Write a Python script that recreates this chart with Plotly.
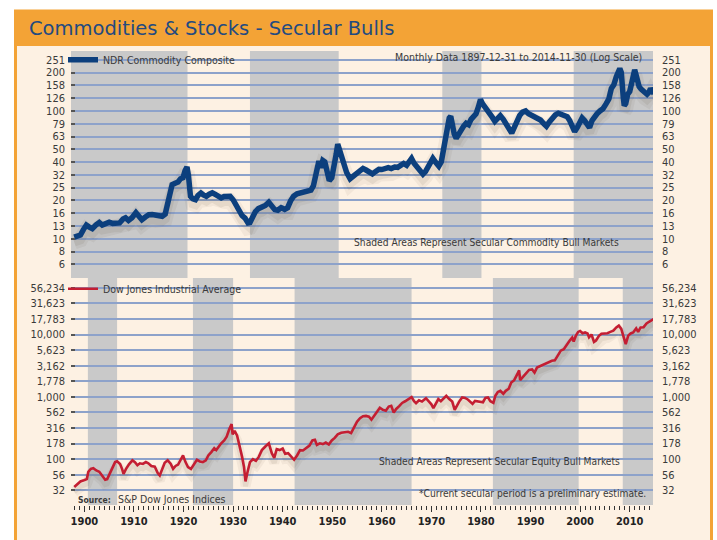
import plotly.graph_objects as go

# ---------------- data ----------------
com_years = [1897.95, 1898.5, 1899.2, 1899.8, 1900.4, 1900.9, 1901.6, 1902.3, 1903.0, 1903.6,
             1904.3, 1905.0, 1905.7, 1906.4, 1907.1, 1907.8, 1908.3, 1908.9, 1909.6, 1910.4,
             1910.9, 1911.6, 1912.3, 1913.0, 1913.7, 1914.4, 1915.0, 1915.7, 1916.3, 1916.8,
             1917.3, 1917.7, 1918.3, 1918.9, 1919.4, 1919.9, 1920.3, 1920.7, 1921.0, 1921.4,
             1921.9, 1922.4, 1922.9, 1923.5, 1924.0, 1924.6, 1925.2, 1925.8, 1926.4, 1927.0,
             1927.6, 1928.2, 1928.8, 1929.4, 1930.0, 1930.6, 1931.2, 1931.8, 1932.4, 1933.0,
             1933.4, 1933.9, 1934.5, 1935.1, 1935.8, 1936.5, 1937.2, 1937.8, 1938.4, 1939.0,
             1939.7, 1940.4, 1941.0, 1941.6, 1942.2, 1942.9, 1943.6, 1944.3, 1945.0, 1945.7,
             1946.2, 1946.6, 1946.9, 1947.3, 1947.7, 1948.1, 1948.5, 1948.9, 1949.4, 1949.9,
             1950.4, 1950.8, 1951.1, 1951.4, 1951.8, 1952.3, 1952.9, 1953.6, 1954.2, 1954.8,
             1955.5, 1956.2, 1956.8, 1957.5, 1958.1, 1958.7, 1959.4, 1960.0, 1960.7, 1961.3,
             1961.9, 1962.6, 1963.2, 1963.8, 1964.4, 1965.0, 1965.6, 1966.0, 1966.5, 1967.1,
             1967.7, 1968.3, 1968.8, 1969.3, 1969.8, 1970.3, 1970.9, 1971.5, 1972.0, 1972.4,
             1972.8, 1973.2, 1973.6, 1973.9, 1974.2, 1974.6, 1975.0, 1975.5, 1976.0, 1976.5,
             1977.0, 1977.5, 1978.0, 1978.5, 1979.0, 1979.5, 1979.9, 1980.3, 1980.8, 1981.3,
             1981.8, 1982.3, 1982.8, 1983.3, 1983.9, 1984.5, 1985.0, 1985.6, 1986.2, 1986.7,
             1987.2, 1987.8, 1988.4, 1989.0, 1989.6, 1990.2, 1990.8, 1991.4, 1992.0, 1992.6,
             1993.2, 1993.8, 1994.4, 1995.0, 1995.6, 1996.2, 1996.8, 1997.4, 1997.9, 1998.4,
             1998.9, 1999.4, 1999.9, 2000.4, 2000.9, 2001.4, 2001.9, 2002.4, 2002.9, 2003.4,
             2004.0, 2004.6, 2005.2, 2005.8, 2006.3, 2006.8, 2007.3, 2007.7, 2008.0, 2008.3,
             2008.5, 2008.7, 2008.9, 2009.2, 2009.6, 2010.0, 2010.4, 2010.8, 2011.0, 2011.3,
             2011.6, 2011.9, 2012.3, 2012.7, 2013.1, 2013.5, 2013.9, 2014.2, 2014.5, 2014.9]
com_values = [10.3, 10.5, 10.7, 11.8, 12.8, 12.4, 12.0, 12.8, 13.4, 12.8,
              13.0, 13.5, 13.2, 13.4, 13.3, 14.3, 14.6, 13.9, 14.6, 16.0,
              15.2, 14.1, 14.8, 15.4, 15.5, 15.2, 15.0, 15.0, 15.6, 18.5,
              22.0, 26.5, 27.2, 27.8, 29.5, 30.0, 34.0, 36.5, 31.0, 21.5,
              20.5, 20.2, 21.8, 22.8, 22.0, 21.5, 22.3, 22.9, 22.2, 21.5,
              20.9, 21.4, 21.3, 21.5, 20.2, 18.3, 16.2, 15.2, 14.5, 13.3,
              13.4, 15.0, 16.3, 17.2, 17.6, 18.2, 19.3, 18.0, 16.9, 16.7,
              17.5, 17.0, 17.5, 19.8, 21.5, 22.5, 22.8, 23.0, 23.4, 24.0,
              26.0, 31.0, 38.0, 40.5, 36.0, 41.0, 40.0, 34.0, 28.5, 30.0,
              36.0, 46.0, 55.0, 50.0, 43.0, 37.0, 33.0, 29.5, 31.0, 32.0,
              34.0, 35.5, 34.5, 33.0, 32.2, 33.5, 35.0, 34.8, 35.2, 36.0,
              35.4, 36.4, 36.2, 37.6, 38.8, 37.5, 40.0, 42.5, 39.0, 36.0,
              33.5, 32.0, 33.5, 36.5, 40.0, 42.5, 39.5, 37.0, 40.0, 49.0,
              58.0, 72.0, 88.0, 91.0, 78.0, 66.0, 61.0, 66.0, 73.0, 76.0,
              80.0, 78.0, 86.0, 90.0, 95.0, 108.0, 123.0, 114.0, 108.0, 103.0,
              97.0, 89.0, 83.0, 88.0, 92.0, 86.0, 79.0, 72.0, 67.0, 74.0,
              84.0, 92.0, 98.0, 100.0, 95.0, 92.0, 90.0, 88.0, 85.0, 80.0,
              76.0, 82.0, 88.0, 93.0, 96.0, 94.0, 92.0, 90.0, 84.0, 76.0,
              69.0, 74.0, 82.0, 88.0, 84.0, 77.0, 74.0, 84.0, 91.0, 95.0,
              100.0, 104.0, 113.0, 124.0, 150.0, 160.0, 185.0, 205.0, 215.0, 200.0,
              175.0, 128.0, 110.0, 114.0, 135.0, 142.0, 165.0, 200.0, 210.0, 190.0,
              165.0, 155.0, 148.0, 142.0, 138.0, 135.0, 140.0, 150.0, 143.0, 137.0]

dow_years = [1897.95, 1898.5, 1899.2, 1899.9, 1900.5, 1900.8, 1901.3, 1901.8, 1902.4, 1903.0,
             1903.6, 1904.2, 1904.6, 1905.2, 1905.7, 1906.2, 1906.6, 1907.2, 1907.6, 1907.9,
             1908.4, 1909.0, 1909.7, 1910.2, 1910.7, 1911.2, 1911.8, 1912.4, 1912.9, 1913.5,
             1914.2, 1914.8, 1915.2, 1915.7, 1916.2, 1916.8, 1917.4, 1917.9, 1918.4, 1918.9,
             1919.4, 1919.9, 1920.4, 1920.9, 1921.5, 1922.1, 1922.7, 1923.3, 1923.9, 1924.5,
             1925.0, 1925.6, 1926.2, 1926.6, 1927.1, 1927.6, 1928.2, 1928.7, 1929.2, 1929.7,
             1929.9, 1930.3, 1930.8, 1931.3, 1931.8, 1932.2, 1932.5, 1932.9, 1933.4, 1934.0,
             1934.6, 1935.2, 1935.8, 1936.5, 1937.2, 1937.8, 1938.3, 1938.8, 1939.4, 1940.0,
             1940.5, 1941.1, 1941.8, 1942.3, 1942.9, 1943.5, 1944.1, 1944.8, 1945.4, 1946.0,
             1946.5, 1946.9, 1947.5, 1948.1, 1948.7, 1949.3, 1949.9, 1950.5, 1951.1, 1951.8,
             1952.5, 1953.2, 1953.8, 1954.4, 1955.0, 1955.6, 1956.2, 1956.8, 1957.4, 1957.9,
             1958.5, 1959.1, 1959.6, 1960.2, 1960.8, 1961.4, 1961.9, 1962.4, 1962.9, 1963.5,
             1964.1, 1964.7, 1965.3, 1966.0, 1966.5, 1966.9, 1967.5, 1968.1, 1968.9, 1969.5,
             1970.0, 1970.4, 1970.9, 1971.4, 1971.9, 1972.5, 1973.0, 1973.6, 1974.2, 1974.7,
             1975.1, 1975.6, 1976.2, 1976.8, 1977.4, 1977.9, 1978.3, 1978.8, 1979.4, 1979.9,
             1980.4, 1980.9, 1981.4, 1981.9, 1982.5, 1982.9, 1983.4, 1983.9, 1984.5, 1985.0,
             1985.6, 1986.1, 1986.7, 1987.3, 1987.7, 1987.9, 1988.4, 1989.0, 1989.7, 1990.3,
             1990.8, 1991.3, 1991.9, 1992.5, 1993.1, 1993.7, 1994.3, 1994.9, 1995.5, 1996.1,
             1996.7, 1997.3, 1997.8, 1998.4, 1998.7, 1999.1, 1999.6, 2000.0, 2000.5, 2001.0,
             2001.5, 2001.8, 2002.3, 2002.8, 2003.2, 2003.8, 2004.3, 2004.9, 2005.5, 2006.1,
             2006.7, 2007.3, 2007.8, 2008.3, 2008.8, 2009.2, 2009.7, 2010.2, 2010.7, 2011.3,
             2011.7, 2012.2, 2012.8, 2013.4, 2013.9, 2014.4, 2014.9]
dow_values = [36, 40, 44, 46, 48, 63, 70, 72, 66, 63,
              55, 47, 48, 62, 75, 90, 93, 84, 70, 58,
              70, 83, 96, 90, 80, 86, 84, 90, 86, 78,
              76, 60, 55, 72, 88, 96, 85, 70, 78, 82,
              100, 115, 90, 75, 70, 84, 98, 92, 90, 96,
              115, 130, 150, 140, 160, 180, 200, 230, 300, 365,
              250, 285, 240, 170, 110, 75, 44, 62, 90, 100,
              94, 110, 140, 160, 180, 125, 105, 145, 140, 148,
              122, 125, 110, 98, 115, 140, 138, 150, 165, 200,
              205, 170, 180, 175, 185, 172, 200, 220, 250, 265,
              270, 275, 262, 320, 400, 455, 490, 495, 480, 430,
              500, 600, 670, 620, 600, 700, 720, 560, 640, 710,
              800, 850, 900, 990, 850, 790, 880, 840, 950, 850,
              760, 660, 800, 920, 850, 950, 1040, 920, 840, 620,
              720, 840, 980, 960, 900, 820, 770, 860, 840, 830,
              820, 960, 980, 850, 800, 1040, 1200, 1250, 1120, 1250,
              1350, 1700, 1850, 2300, 2650, 1850, 2050, 2250, 2700, 2750,
              2450, 2950, 3100, 3300, 3400, 3600, 3800, 3850, 4600, 5500,
              5800, 7000, 7800, 8900, 7700, 9400, 11000, 11400, 10500, 10800,
              10400, 9000, 10000, 7600, 8000, 9500, 10300, 10400, 10500, 11000,
              11500, 13000, 13900, 12300, 9300, 7000, 9600, 10400, 10800, 12500,
              11000, 13000, 13100, 15000, 16000, 16800, 17800]

commodity_bull_start = [1897.0, 1933.4, 1972.2, 1998.7]
commodity_bull_end = [1920.8, 1951.3, 1980.1, 2015.0]
equity_bull_start = [1900.7, 1921.9, 1942.4, 1982.4, 2008.6]
equity_bull_end = [1906.6, 1930.0, 1966.0, 1999.7, 2015.0]

commodity_tick_labels = ["251", "200", "158", "126", "100", "79", "63", "50", "40",
                         "32", "25", "20", "16", "13", "10", "8", "6"]
dow_tick_labels = ["56,234", "31,623", "17,783", "10,000", "5,623", "3,162", "1,778",
                   "1,000", "562", "316", "178", "100", "56", "32"]
decade_ticks = [1900, 1910, 1920, 1930, 1940, 1950, 1960, 1970, 1980, 1990, 2000, 2010]

# ---------------- styling ----------------
W, H = 717, 540
L, R, T, B = 71, 653, 51, 515
NARROW = "Liberation Sans Narrow, DejaVu Sans Condensed, Arial Narrow, sans-serif"
BEIGE = "#FDF1E3"
ORANGE = "#F3A336"
GRAY = "#C9C9C9"
GRID = "#8DA2CA"
TXT = "#3A3A3A"


def px(xp):
    return (xp - L) / (R - L)


def py(yp):
    return (B - yp) / (B - T)


com_ticks = [10 ** (2.4 - 0.1 * i) for i in range(len(commodity_tick_labels))]
dow_ticks = [10 ** (4.75 - 0.25 * i) for i in range(len(dow_tick_labels))]
X_RANGE = [1897.3, 2014.7]
COM_RANGE = [0.693, 2.469]
DOW_RANGE = [1.266, 4.906]
com_shift = 5 / 130.6
dow_shift = 5 / 64.0
TOP_DOM = [0.5, 1.0]
BOT_DOM = [0.0, 0.5]

fig = go.Figure()

# soft shadows (base subplots, drawn first)
for w, a in [(15, 0.05), (9, 0.07)]:
    fig.add_trace(go.Scatter(x=com_years, y=com_values, xaxis="x", yaxis="y", mode="lines",
                             line=dict(color=f"rgba(60,40,20,{a})", width=w),
                             showlegend=False, hoverinfo="skip"))
for w, a in [(10, 0.05), (5, 0.07)]:
    fig.add_trace(go.Scatter(x=dow_years, y=dow_values, xaxis="x2", yaxis="y2", mode="lines",
                             line=dict(color=f"rgba(60,40,20,{a})", width=w),
                             showlegend=False, hoverinfo="skip"))
# main lines (overlay subplots with left-side labels)
fig.add_trace(go.Scatter(x=com_years, y=com_values, xaxis="x", yaxis="y3", mode="lines",
                         name="NDR Commodity Composite", legend="legend",
                         line=dict(color="#0C3F7D", width=5.5)))
fig.add_trace(go.Scatter(x=dow_years, y=dow_values, xaxis="x2", yaxis="y4", mode="lines",
                         name="Dow Jones Industrial Average", legend="legend2",
                         line=dict(color="#C41E32", width=2.6)))
# transparent carriers for the right-side label axes
fig.add_trace(go.Scatter(x=com_years, y=com_values, xaxis="x", yaxis="y5", mode="lines",
                         line=dict(color="rgba(0,0,0,0)", width=1),
                         showlegend=False, hoverinfo="skip"))
fig.add_trace(go.Scatter(x=dow_years, y=dow_values, xaxis="x2", yaxis="y6", mode="lines",
                         line=dict(color="rgba(0,0,0,0)", width=1),
                         showlegend=False, hoverinfo="skip"))

shapes = []
# frame
shapes.append(dict(type="rect", xref="paper", yref="paper", x0=px(15.5), x1=px(711.5),
                   y0=py(560), y1=py(10), fillcolor=BEIGE,
                   line=dict(color=ORANGE, width=3), layer="below"))
shapes.append(dict(type="rect", xref="paper", yref="paper", x0=px(14), x1=px(713),
                   y0=py(46), y1=py(9), fillcolor=ORANGE, line=dict(width=0), layer="below"))
for s, e in zip(commodity_bull_start, commodity_bull_end):
    shapes.append(dict(type="rect", xref="x", yref="y domain", x0=s, x1=e, y0=0, y1=1,
                       fillcolor=GRAY, line=dict(width=0), layer="below"))
for s, e in zip(equity_bull_start, equity_bull_end):
    shapes.append(dict(type="rect", xref="x2", yref="y2 domain", x0=s, x1=e, y0=0, y1=1,
                       fillcolor=GRAY, line=dict(width=0), layer="below"))

tickfont = dict(family=NARROW, size=11, color=TXT)
ybase = dict(type="log", showticklabels=False, ticks="", showgrid=False, zeroline=False,
             showline=False)
yleft = dict(type="log", tickmode="array", showgrid=True, gridcolor=GRID, gridwidth=1.5,
             ticks="inside", ticklen=4, tickwidth=1.5, tickcolor="#555555", side="left",
             tickfont=tickfont, ticklabelstandoff=5, zeroline=False, showline=False)
yright = dict(type="log", tickmode="array", showgrid=False, ticks="", side="right",
              tickfont=tickfont, ticklabelstandoff=8, zeroline=False, showline=False)

SMALL = 10.5
annotations = [
    dict(text="Commodities &amp; Stocks - Secular Bulls", xref="paper", yref="paper",
         x=px(27), y=py(28), xanchor="left", yanchor="middle", showarrow=False,
         font=dict(family="DejaVu Sans", size=19.5, color="#234A80")),
    dict(text="Monthly Data 1897-12-31 to 2014-11-30 (Log Scale)", xref="paper", yref="paper",
         x=px(644), y=py(57), xanchor="right", yanchor="middle", showarrow=False,
         font=dict(family=NARROW, size=SMALL, color=TXT)),
    dict(text="Shaded Areas Represent Secular Commodity Bull Markets", xref="paper", yref="paper",
         x=px(352), y=py(247), xanchor="left", yanchor="middle", showarrow=False,
         font=dict(family=NARROW, size=10.2, color=TXT)),
    dict(text="Shaded Areas Represent Secular Equity Bull Markets", xref="paper", yref="paper",
         x=px(377), y=py(471), xanchor="left", yanchor="middle", showarrow=False,
         font=dict(family=NARROW, size=10.2, color=TXT)),
    dict(text="*Current secular period is a preliminary estimate.", xref="paper", yref="paper",
         x=px(417), y=py(503), xanchor="left", yanchor="middle", showarrow=False,
         font=dict(family=NARROW, size=10.2, color=TXT)),
    dict(text="<b>Source:</b>", xref="paper", yref="paper",
         x=px(76), y=py(510), xanchor="left", yanchor="middle", showarrow=False,
         font=dict(family=NARROW, size=8.5, color=TXT)),
    dict(text="S&amp;P Dow Jones Indices", xref="paper", yref="paper",
         x=px(116), y=py(509), xanchor="left", yanchor="middle", showarrow=False,
         font=dict(family=NARROW, size=SMALL, color=TXT)),
]

fig.update_layout(
    width=W, height=H, autosize=False,
    margin=dict(l=L, r=W - R, t=T, b=H - B, pad=0),
    paper_bgcolor="white", plot_bgcolor="rgba(0,0,0,0)",
    showlegend=True,
    xaxis=dict(domain=[0, 1], anchor="y", range=X_RANGE, showticklabels=False, ticks="",
               showgrid=False, zeroline=False, showline=False),
    xaxis2=dict(domain=[0, 1], anchor="y2", range=X_RANGE, tickmode="array",
                tickvals=decade_ticks, ticks="outside", ticklen=6, tickwidth=1.2,
                tickcolor="#333333", showgrid=False, zeroline=False, showline=False,
                tickfont=dict(family=NARROW, size=11, color="#222222", weight="bold"),
                minor=dict(dtick=1, ticks="outside", ticklen=4, tickwidth=1,
                           tickcolor="#333333", showgrid=False)),
    yaxis=dict(domain=TOP_DOM, anchor="x",
               range=[COM_RANGE[0] + com_shift, COM_RANGE[1] + com_shift], **ybase),
    yaxis3=dict(overlaying="y", anchor="x", domain=TOP_DOM, range=COM_RANGE,
                tickvals=com_ticks, ticktext=commodity_tick_labels, **yleft),
    yaxis5=dict(overlaying="y", anchor="x", domain=TOP_DOM, range=COM_RANGE,
                tickvals=com_ticks, ticktext=commodity_tick_labels, **yright),
    yaxis2=dict(domain=BOT_DOM, anchor="x2",
                range=[DOW_RANGE[0] + dow_shift, DOW_RANGE[1] + dow_shift], **ybase),
    yaxis4=dict(overlaying="y2", anchor="x2", domain=BOT_DOM, range=DOW_RANGE,
                tickvals=dow_ticks, ticktext=dow_tick_labels, **yleft),
    yaxis6=dict(overlaying="y2", anchor="x2", domain=BOT_DOM, range=DOW_RANGE,
                tickvals=dow_ticks, ticktext=dow_tick_labels, **yright),
    legend=dict(x=px(63), y=py(60), xanchor="left", yanchor="middle",
                bgcolor="rgba(0,0,0,0)", borderwidth=0, itemwidth=30,
                font=dict(family=NARROW, size=SMALL, color=TXT), tracegroupgap=0,
                itemclick=False, itemdoubleclick=False),
    legend2=dict(x=px(63), y=py(294), xanchor="left", yanchor="middle",
                 bgcolor="rgba(0,0,0,0)", borderwidth=0, itemwidth=30,
                 font=dict(family=NARROW, size=SMALL, color=TXT), tracegroupgap=0,
                 itemclick=False, itemdoubleclick=False),
    shapes=shapes,
    annotations=annotations,
)

fig.write_html("out.html", config={"displayModeBar": False},
               post_script="document.body.style.margin='0px';")
